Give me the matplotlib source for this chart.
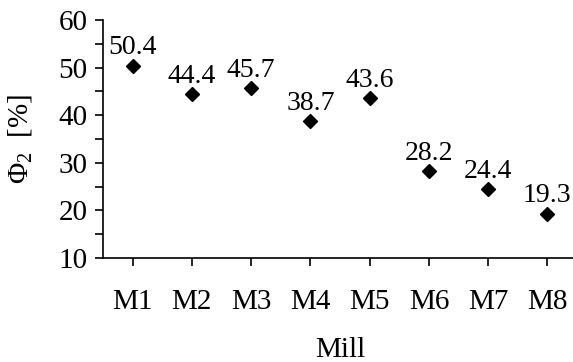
import matplotlib
matplotlib.use('Agg')
import matplotlib.pyplot as plt
from matplotlib.ticker import MultipleLocator

# Data
mills = ['M1', 'M2', 'M3', 'M4', 'M5', 'M6', 'M7', 'M8']
phi2 = [50.4, 44.4, 45.7, 38.7, 43.6, 28.2, 24.4, 19.3]

plt.rcParams['font.family'] = 'Liberation Serif'
plt.rcParams['mathtext.fontset'] = 'custom'
plt.rcParams['mathtext.rm'] = 'Liberation Serif'
plt.rcParams['mathtext.default'] = 'regular'

fig = plt.figure(figsize=(5.73, 3.62), dpi=100)
ax = fig.add_axes([103 / 573, 1 - 258 / 362, 474 / 573, 238 / 362])

x = list(range(len(mills)))
ax.plot(x, phi2, linestyle='none', marker='D', markersize=7, color='black')
for xi, v in zip(x, phi2):
    ax.annotate(f'{v:.1f}', (xi, v), xytext=(0, 4), textcoords='offset points',
                ha='center', va='bottom', fontsize=20)

ax.set_xlim(-0.5, 7.5)
ax.set_ylim(10, 60)
ax.set_xticks(x)
ax.set_xticklabels(mills)
ax.yaxis.set_major_locator(MultipleLocator(10))
ax.yaxis.set_minor_locator(MultipleLocator(5))
ax.tick_params(axis='both', which='major', direction='out', length=6, width=1.2, labelsize=21, pad=5)
ax.tick_params(axis='y', which='minor', direction='out', length=6, width=1.2)
ax.tick_params(axis='x', pad=16)

for s in ['top', 'right']:
    ax.spines[s].set_visible(False)
for s in ['left', 'bottom']:
    ax.spines[s].set_linewidth(1.2)

ax.set_xlabel('Mill', fontsize=21, labelpad=16)
ax.set_ylabel('Φ$_2$  [%]', fontsize=21, labelpad=18)

fig.savefig('out.png', dpi=100)
